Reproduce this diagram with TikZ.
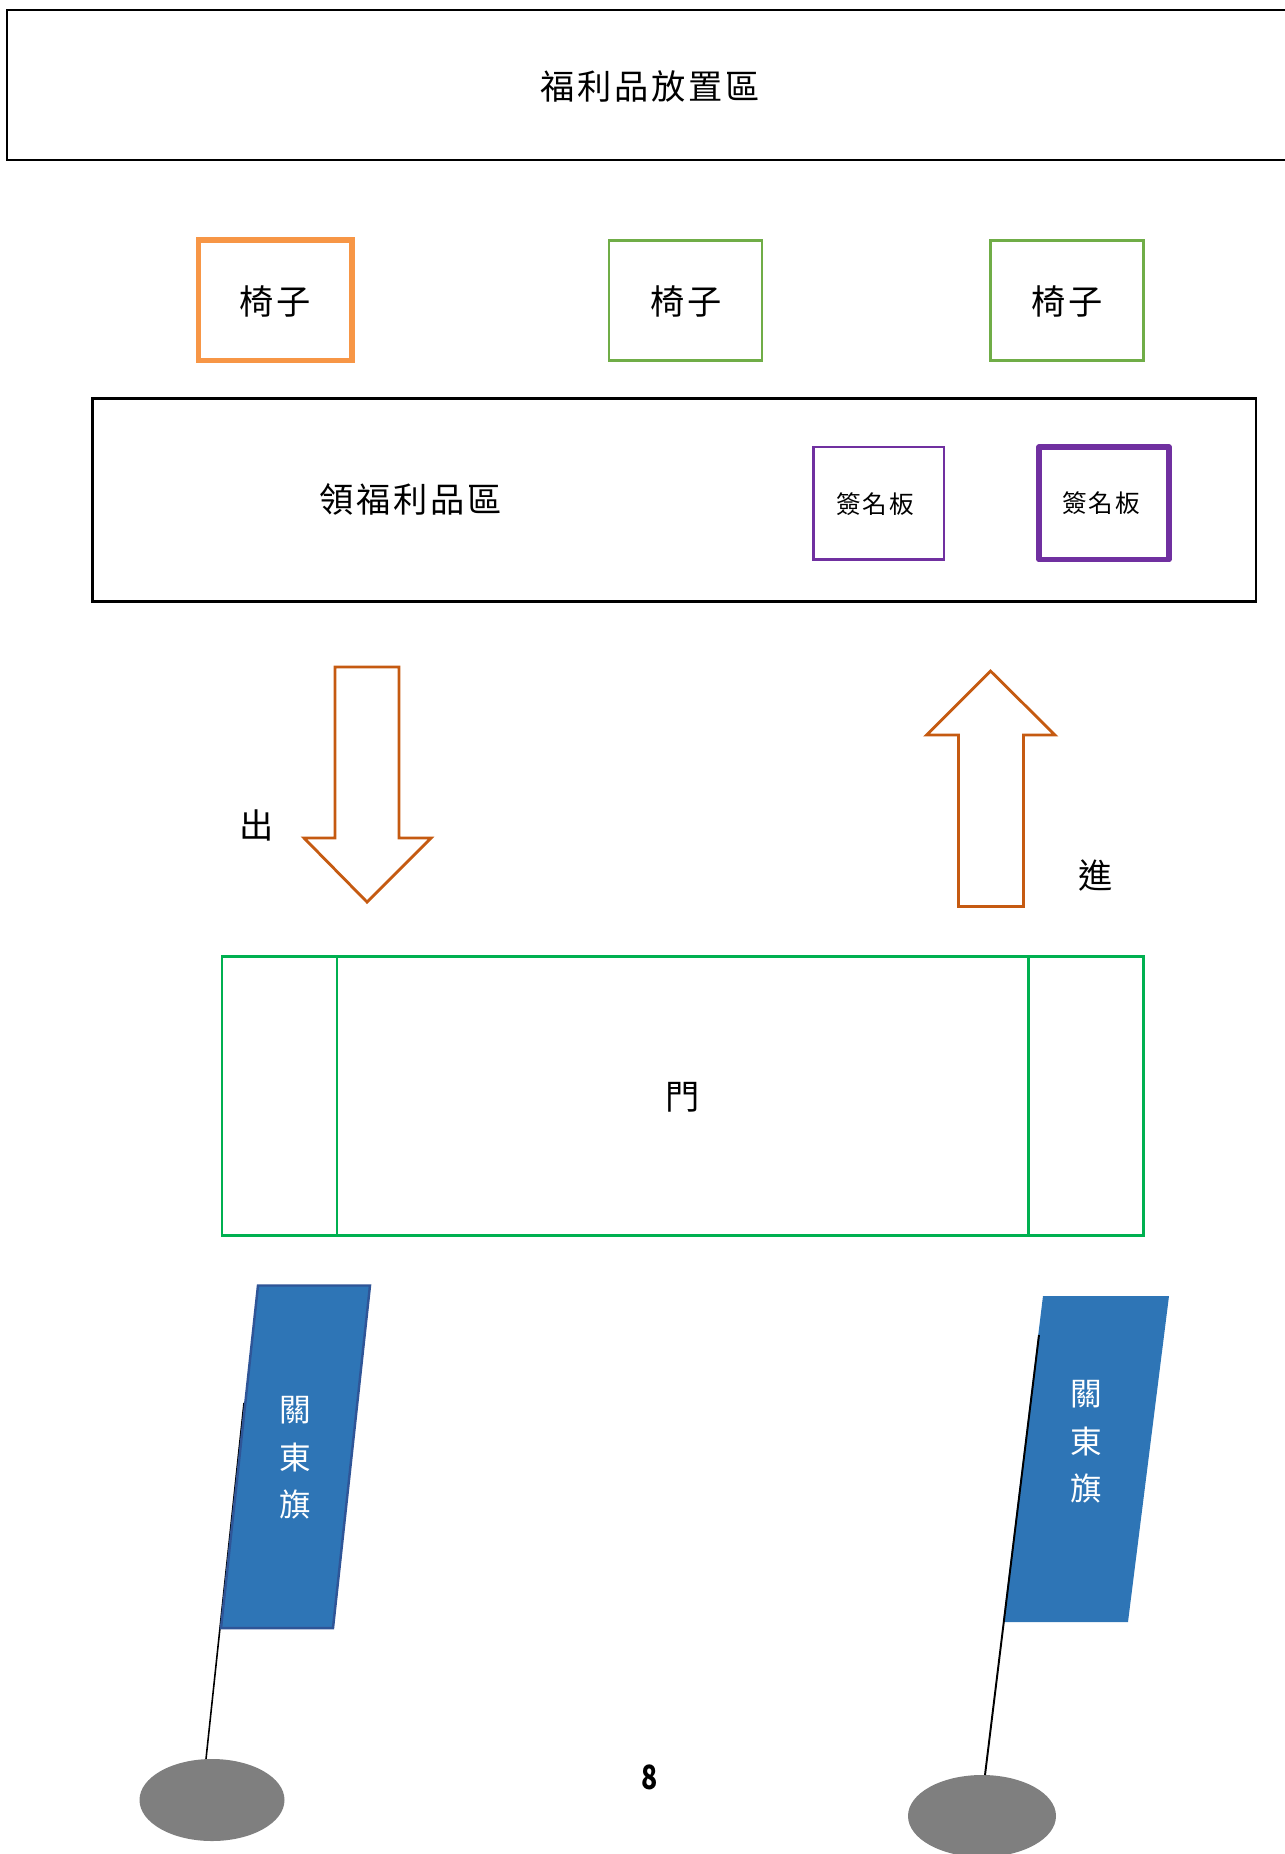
\documentclass[tikz,border=0pt]{standalone}
\usepackage{fontspec}
\newfontfamily\cjk[LetterSpace=8]{Noto Sans CJK TC}
\newfontfamily\cjkflag{Noto Sans CJK TC}
\definecolor{chairorange}{HTML}{F79646}
\definecolor{chairgreen}{HTML}{70AD47}
\definecolor{signpurple}{HTML}{7030A0}
\definecolor{arrowbrown}{HTML}{C55A11}
\definecolor{doorgreen}{HTML}{00B050}
\definecolor{flagblue}{HTML}{2E75B6}
\definecolor{flagedge}{HTML}{2F5597}
\definecolor{basegray}{HTML}{7F7F7F}
\tikzset{
    areabox/.style={draw=black,line width=1.5pt},
    chairbox/.style={draw=chairgreen,line width=1.7pt},
    signbox/.style={draw=signpurple,line width=1.6pt},
    walkarrow/.style={draw=arrowbrown,line width=1.6pt},
    doorbox/.style={draw=doorgreen,line width=1.7pt},
    pole/.style={draw=black,line width=0.9pt},
    bigtext/.style={font=\cjk\fontsize{19.5}{22}\selectfont},
    smalltext/.style={font=\cjk\fontsize{14}{16}\selectfont},
    flagtext/.style={text=white,align=center,font=\cjkflag\fontsize{18}{27}\selectfont}
}
\begin{document}
\begin{tikzpicture}[x=0.02cm,y=0.02cm]
    \tikzstyle{every node}+=[inner sep=0pt]
    \useasboundingbox (0,0) rectangle (1285,-1854);
    % top area
    \draw [areabox] (1290,-10) -- (7,-10) -- (7,-160) -- (1290,-160);
    \draw (650,-86) node [bigtext] (goodsarea) {福利品放置區};
    % chairs
    \draw [areabox,draw=chairorange,line width=3pt] (198.5,-240) rectangle (352,-360.5);
    \draw (275,-301) node [bigtext] (chaira) {椅子};
    \draw [chairbox] (609,-240.5) rectangle (762,-360.5);
    \draw (686,-301) node [bigtext] (chairb) {椅子};
    \draw [chairbox] (990,-240) rectangle (1143.5,-360);
    \draw (1067,-301) node [bigtext] (chairc) {椅子};
    % pick-up area and signing boards
    \draw [areabox] (92.5,-398.5) rectangle (1256,-601.5);
    \draw (411,-499) node [bigtext] (pickup) {領福利品區};
    \draw [signbox] (813.5,-447) rectangle (944,-559.5);
    \draw (875,-504) node [smalltext] (signa) {簽名板};
    \draw [signbox,line width=3.2pt,line join=round] (1039,-447) rectangle (1169,-559.5);
    \draw (1101,-503) node [smalltext] (signb) {簽名板};
    % way out
    \draw [walkarrow] (335,-667) -- (399,-667) -- (399,-838) -- (431,-838) -- (367,-902) -- (304,-838) -- (335,-838) -- cycle;
    \draw (257,-825) node [bigtext] (wayout) {出};
    % way in
    \draw [walkarrow] (958.5,-906.5) -- (1023.5,-906.5) -- (1023.5,-735) -- (1055,-735) -- (990.5,-671) -- (926.5,-735) -- (958.5,-735) -- cycle;
    \draw (1096,-876) node [bigtext] (wayin) {進};
    % door
    \draw [doorbox] (222,-956.5) rectangle (1143,-1235.5);
    \draw [doorbox] (337,-956.5) -- (337,-1235.5);
    \draw [doorbox] (1028,-956.5) -- (1028,-1235.5);
    \draw (683,-1097) node [bigtext] (door) {門};
    % left flag
    \draw [pole] (244,-1403) -- (206,-1759);
    \fill [basegray] (212,-1800) ellipse (72.5 and 41);
    \draw [fill=flagblue,draw=flagedge,line width=1.4pt] (258,-1285.5) -- (370,-1285.5) -- (333,-1628) -- (221,-1628) -- cycle;
    \draw (295.5,-1458) node [flagtext] (flaga) {關\\東\\旗};
    % right flag
    \fill [basegray] (982,-1816) ellipse (74 and 41);
    \fill [flagblue] (1043,-1296) -- (1169,-1296) -- (1128,-1622) -- (1003,-1622) -- cycle;
    \draw [pole,line width=1.1pt] (1039,-1335) -- (985,-1775);
    \draw (1086,-1442) node [flagtext] (flagb) {關\\東\\旗};
    % page number
    \draw (650,-1777) node [font=\cjkflag\bfseries\fontsize{19}{22}\selectfont] (pagenum) {\scalebox{0.8}[1]{8}};
\end{tikzpicture}
\end{document}
